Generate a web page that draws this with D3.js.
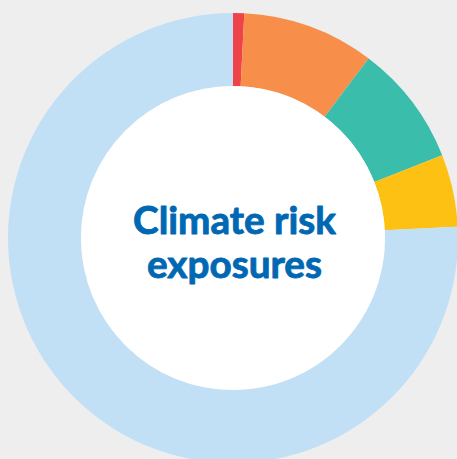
<!DOCTYPE html>
<html>
<head>
<meta charset="utf-8">
<script src="https://cdn.jsdelivr.net/npm/d3@7"></script>
<style>
  html, body { margin: 0; padding: 0; background: #eeeeee; }
  svg { display: block; }
</style>
</head>
<body>
<svg id="chart" width="457" height="459"></svg>
<script>
// Data (shares of the ring, clockwise from 12 o'clock)
const categories = ["Segment 1", "Segment 2", "Segment 3", "Segment 4", "Other"];
const values = [0.8, 9.5, 8.7, 5.2, 75.8];
const colors = ["#ef434a", "#f78f4a", "#3bbdac", "#fdc114", "#c2e0f5"];
const titleLines = ["Climate risk", "exposures"];

const W = 457, H = 459;
const cx = 233, cy = 238;
const outerR = 225, innerR = 152;

const svg = d3.select("#chart");
svg.append("rect").attr("width", W).attr("height", H).attr("fill", "#eeeeee");

const g = svg.append("g").attr("transform", `translate(${cx},${cy})`);

const data = categories.map((c, i) => ({ category: c, value: values[i], color: colors[i] }));

const pie = d3.pie().sort(null).value(d => d.value).startAngle(0).endAngle(2 * Math.PI);
const arc = d3.arc().innerRadius(innerR).outerRadius(outerR);

g.selectAll("path.slice")
  .data(pie(data))
  .join("path")
  .attr("class", "slice")
  .attr("d", arc)
  .attr("fill", d => d.data.color);

g.append("circle").attr("r", innerR).attr("fill", "#ffffff");

const title = g.append("text")
  .attr("text-anchor", "middle")
  .attr("fill", "#0068b3")
  .attr("stroke", "#0068b3")
  .attr("stroke-width", 0.9)
  .attr("stroke-linejoin", "round")
  .style("font-family", "Lato, 'Open Sans', sans-serif")
  .style("font-weight", 700)
  .style("font-size", "36px");

const baselines = [-4, 40];
titleLines.forEach((t, i) => {
  title.append("tspan").attr("x", 1.5).attr("y", baselines[i]).text(t);
});

// fit first line width to ~203px
const first = title.select("tspan").node();
const w = first.getComputedTextLength();
const fs = 36 * 203 / w;
title.style("font-size", fs + "px");
</script>
</body>
</html>
